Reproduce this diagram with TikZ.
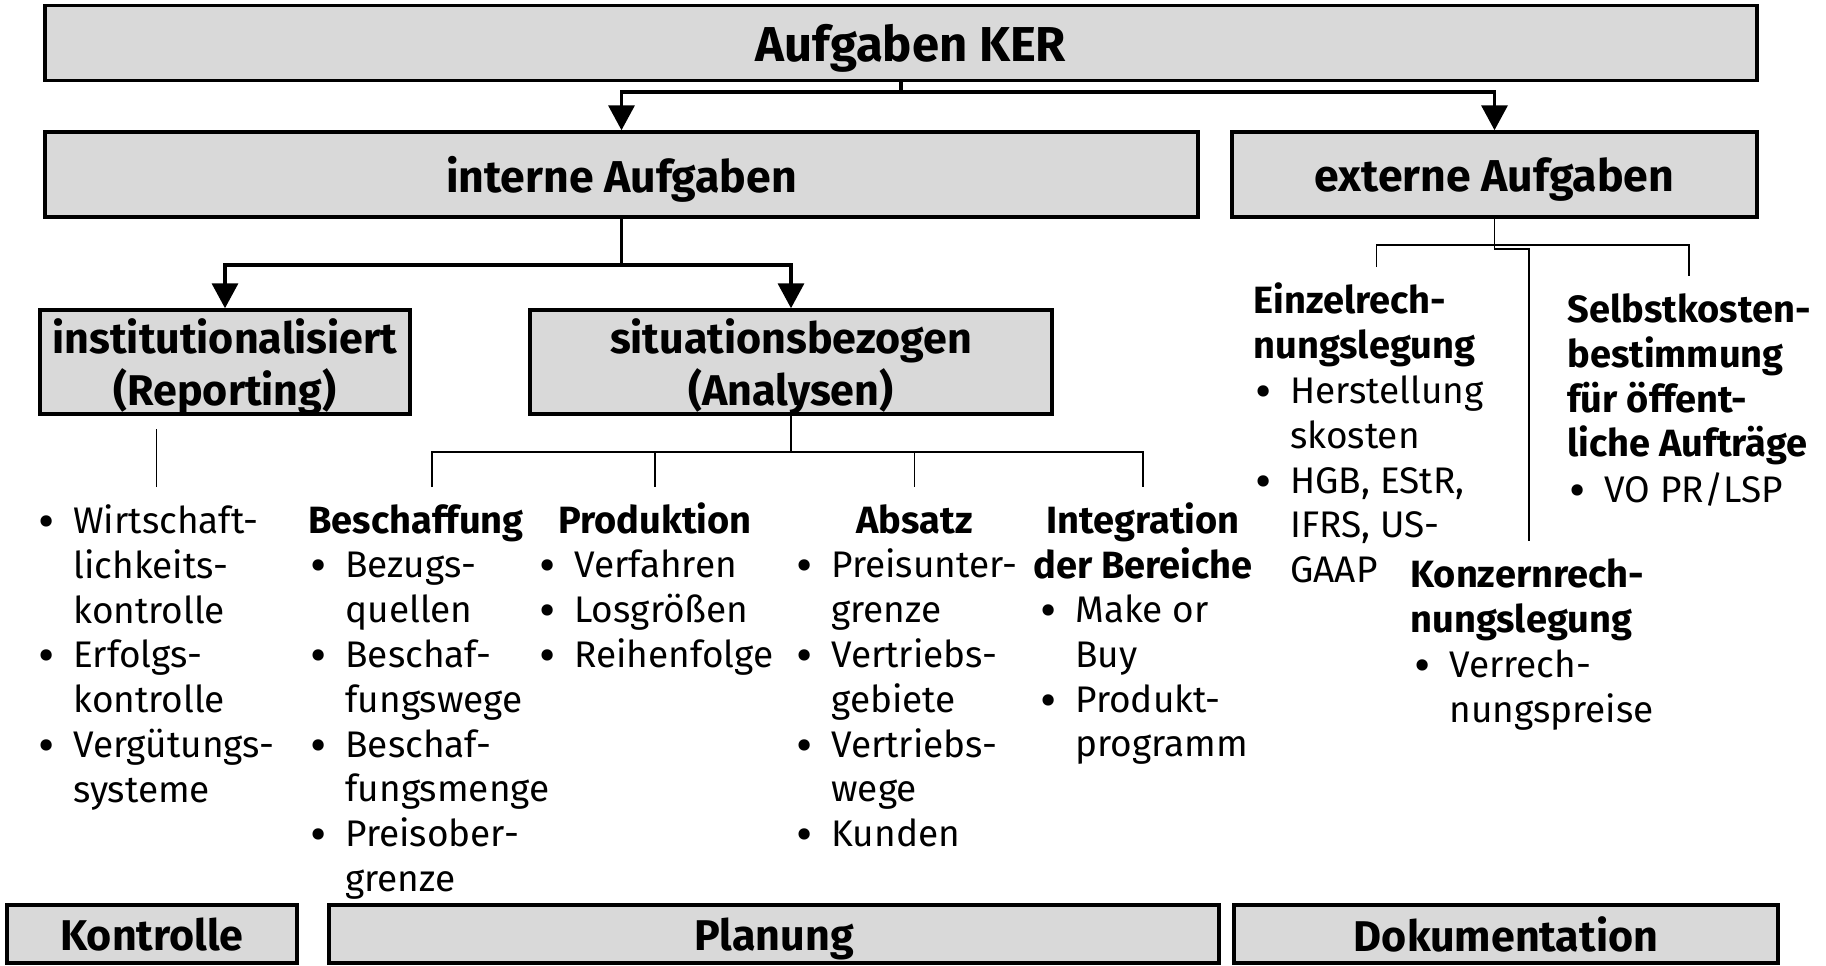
\documentclass[tikz,border=0pt]{standalone}
\usepackage{fontspec}
\setmainfont{Fira Sans}
\usetikzlibrary{arrows.meta,calc}

\definecolor{boxgray}{RGB}{217,217,217}
\newcommand{\bul}{\makebox[17.5pt][l]{\raisebox{-2.5pt}{\fontsize{25}{0}\selectfont\textbullet}}}
\newcommand{\ctn}{\hspace*{17.5pt}}
\newcommand{\fl}{\rule{0pt}{16pt}}

\begin{document}
\begin{tikzpicture}[x=0.5pt, y=-0.5pt]
    % Define styles
    \tikzset{
        box/.style={draw, line width=1.75pt, fill=boxgray, align=center, inner sep=0pt, text depth=0pt,
            font=\fontsize{21.5}{25.75}\selectfont\bfseries},
        conn/.style={line width=1.8pt},
        arr/.style={conn, -{Triangle[length=12.5pt, width=13pt]}},
        tree/.style={line width=0.8pt},
        head/.style={anchor=north west, align=left, inner sep=0pt,
            font=\fontsize{19}{22.4}\selectfont\bfseries},
        items/.style={anchor=north west, align=left, inner sep=0pt,
            font=\fontsize{18.5}{22.4}\selectfont}
    }
    \useasboundingbox (0,0) rectangle (1826,965);

    % Boxes
    \node[box, minimum width=856pt, minimum height=37.5pt, font=\fontsize{24.5}{26}\selectfont\bfseries]
        (ker) at (901,43) {\hspace*{10pt}Aufgaben KER};
    \node[box, minimum width=576.5pt, minimum height=42.5pt, font=\fontsize{22.3}{26}\selectfont\bfseries]
        (intern) at (621.5,174.5) {interne Aufgaben};
    \node[box, minimum width=262.5pt, minimum height=42.5pt, font=\fontsize{22.3}{26}\selectfont\bfseries]
        (extern) at (1494.5,174.5) {externe Aufgaben};
    \node[box, minimum width=185pt, minimum height=52pt] (inst) at (225,362) {institutionalisiert\\(Reporting)};
    \node[box, minimum width=261pt, minimum height=52pt] (situ) at (791,362) {situationsbezogen\\(Analysen)};
    \node[box, minimum width=145pt, minimum height=29pt] (kontr) at (152,934) {Kontrolle};
    \node[box, minimum width=445pt, minimum height=29pt] (plan) at (774,934) {Planung};
    \node[box, minimum width=272pt, minimum height=29pt] (doku) at (1506,934) {Dokumentation};

    % Column headings
    \node[head] (besch) at (308,501) {\fl Beschaffung};
    \node[head] (prod) at (558,501) {\fl Produktion};
    \node[head] (absatz) at (856,501) {\fl Absatz};
    \node[head, anchor=north, align=center] (integ) at (1143,501) {\fl Integration\\der Bereiche};
    \node[head] (einzel) at (1253,281) {\fl Einzelrech-\\nungslegung};
    \node[head] (konzern) at (1410,555) {\fl Konzernrech-\\nungslegung};
    \node[head] (selbst) at (1567,290) {\fl Selbstkosten-\\bestimmung\\f\"ur \"offent-\\liche Auftr\"age};

    % Item lists
    \node[items] (kl) at (38,501) {\fl\bul Wirtschaft-\\\ctn lichkeits-\\\ctn kontrolle\\\bul Erfolgs-\\\ctn kontrolle\\\bul Verg\"utungs-\\\ctn systeme};
    \node[items] (bl) at (310,545.5) {\fl\bul Bezugs-\\\ctn quellen\\\bul Beschaf-\\\ctn fungswege};
    \node[items] (bl2) at (310,724.7) {\fl\bul Beschaf-\\\ctn fungsmenge\\\bul Preisober-\\\ctn grenze};
    \node[items] (pl) at (539,545.5) {\fl\bul Verfahren\\\bul Losgr\"o\ss en\\\bul Reihenfolge};
    \node[items] (al) at (796,545.5) {\fl\bul Preisunter-\\\ctn grenze\\\bul Vertriebs-\\\ctn gebiete\\\bul Vertriebs-\\\ctn wege\\\bul Kunden};
    \node[items] (il) at (1040,590) {\fl\bul Make or\\\ctn Buy\\\bul Produkt-\\\ctn programm};
    \node[items] (el) at (1255,371) {\fl\bul Herstellung\\\ctn skosten\\\bul HGB, EStR,\\\ctn IFRS, US-};
    \node[items] (el2) at (1255,550.2) {\fl\ctn GAAP};
    \node[items] (kzl) at (1414,645) {\fl\bul Verrech-\\\ctn nungspreise};
    \node[items] (sl) at (1569,470) {\fl\bul VO PR/LSP};

    % Thick connectors with arrows
    \draw[conn] (ker.south) -- ++(0,10) coordinate (kj);
    \draw[arr] (kj) -| (intern.north);
    \draw[arr] (kj) -| (extern.north);
    \draw[conn] (intern.south) -- ++(0,46) coordinate (ij);
    \draw[arr] (ij) -| (inst.north);
    \draw[arr] (ij) -| (situ.north);

    % Thin tree lines
    \draw[tree] ([yshift=7pt]kl.north) -- ++(0,-58);
    \draw[tree] (situ.south) -- ++(0,36) coordinate (sj);
    \draw[tree] ([xshift=8pt, yshift=7pt]besch.north) |- (sj) -| ([yshift=7pt]integ.north);
    \foreach \n in {prod, absatz} {
        \draw[tree] (sj -| \n.north) -- ([yshift=7pt]\n.north);
    }
    \draw[tree] (extern.south) -- ++(0,26) coordinate (ej);
    \draw[tree] ([xshift=6pt, yshift=7pt]einzel.north) |- (ej) -| ([yshift=7pt]selbst.north);
    \draw[tree] (ej) -- ++(0,4) -| ([xshift=1pt, yshift=7pt]konzern.north);
\end{tikzpicture}
\end{document}
